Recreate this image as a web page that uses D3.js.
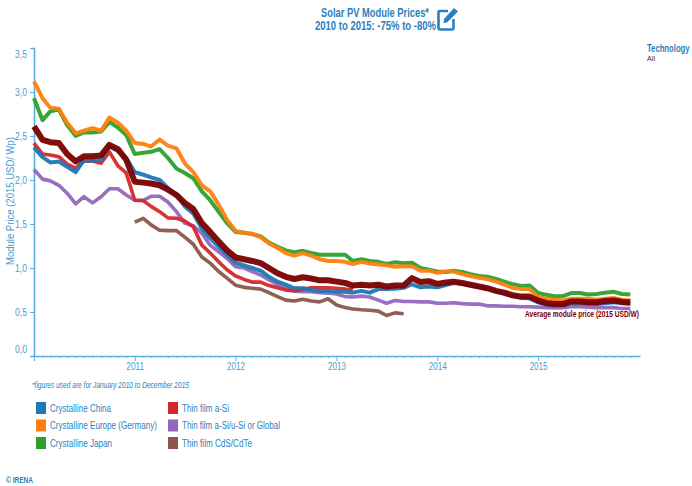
<!DOCTYPE html>
<html>
<head>
<meta charset="utf-8">
<script src="https://cdn.jsdelivr.net/npm/d3@7"></script>
<style>
  html, body { margin: 0; padding: 0; background: #fff; }
  svg { display: block; }
  text { font-family: "Liberation Sans", sans-serif; }
</style>
</head>
<body>
<svg id="chart" width="692" height="486"></svg>
<script>
// monthly values, Jan 2010 onwards (USD/Wp); brown starts Jan 2011
const china = [2.37,2.26,2.20,2.21,2.15,2.09,2.23,2.22,2.23,2.38,2.33,2.25,2.09,2.06,2.03,2.00,1.91,1.83,1.70,1.62,1.45,1.34,1.24,1.15,1.06,1.03,1.00,.97,.90,.845,.81,.77,.77,.75,.74,.74,.73,.73,.72,.74,.72,.76,.76,.765,.775,.815,.78,.79,.78,.805,.83,.82,.80,.785,.765,.735,.705,.68,.66,.655,.61,.58,.57,.57,.60,.60,.59,.59,.60,.61,.60,.59];
const europe = [3.12,2.93,2.82,2.81,2.65,2.53,2.56,2.59,2.56,2.71,2.65,2.56,2.42,2.41,2.38,2.46,2.39,2.36,2.19,2.09,1.94,1.87,1.72,1.55,1.42,1.40,1.39,1.35,1.28,1.23,1.17,1.14,1.17,1.14,1.10,1.08,1.08,1.07,1.045,1.07,1.05,1.04,1.03,1.015,1.02,1.02,.97,.97,.945,.96,.96,.93,.91,.89,.875,.845,.81,.775,.76,.76,.67,.65,.64,.63,.65,.65,.65,.64,.65,.66,.64,.63];
const japan = [2.93,2.68,2.78,2.80,2.625,2.50,2.54,2.54,2.55,2.66,2.595,2.51,2.295,2.31,2.32,2.35,2.25,2.13,2.08,2.02,1.87,1.77,1.64,1.51,1.41,1.40,1.385,1.36,1.29,1.24,1.20,1.18,1.195,1.17,1.15,1.15,1.15,1.15,1.08,1.10,1.08,1.07,1.045,1.065,1.055,1.06,1.0,.98,.96,.955,.97,.955,.93,.91,.90,.875,.845,.815,.795,.80,.715,.695,.68,.68,.715,.715,.70,.705,.72,.73,.705,.70];
const aSi = [2.42,2.295,2.285,2.265,2.18,2.135,2.215,2.215,2.19,2.32,2.16,2.08,1.77,1.765,1.70,1.64,1.57,1.565,1.535,1.47,1.26,1.17,1.07,.98,.91,.87,.84,.84,.80,.775,.75,.74,.76,.775,.775,.775,.77,.76,.75];
const aSiGlobal = [2.12,2.01,1.99,1.94,1.85,1.73,1.81,1.74,1.81,1.90,1.90,1.83,1.77,1.77,1.815,1.815,1.75,1.64,1.51,1.48,1.395,1.26,1.185,1.11,1.015,1.0,.96,.92,.865,.815,.77,.74,.73,.73,.72,.715,.705,.675,.67,.68,.67,.635,.60,.63,.62,.62,.615,.615,.60,.60,.605,.595,.59,.59,.57,.57,.565,.565,.56,.56,.555,.55,.545,.55,.56,.56,.555,.55,.55,.55,.54,.54];
const cdTe = [1.52,1.565,1.49,1.43,1.425,1.425,1.35,1.27,1.125,1.055,.96,.885,.805,.78,.77,.76,.72,.675,.635,.625,.645,.625,.615,.65,.58,.55,.535,.525,.52,.51,.46,.49,.48];
const average = [2.61,2.455,2.43,2.42,2.295,2.21,2.27,2.27,2.28,2.40,2.35,2.23,1.98,1.97,1.96,1.94,1.89,1.83,1.74,1.67,1.51,1.41,1.30,1.20,1.12,1.10,1.08,1.055,1.0,.94,.90,.875,.895,.88,.86,.86,.845,.83,.80,.81,.80,.81,.79,.80,.80,.885,.84,.85,.82,.835,.845,.83,.81,.79,.77,.74,.72,.69,.675,.675,.63,.60,.59,.59,.62,.62,.61,.61,.625,.63,.615,.61];

const legendNames = ['Crystalline China','Crystalline Europe (Germany)','Crystalline Japan','Thin film a-Si','Thin film a-Si/u-Si or Global','Thin film CdS/CdTe'];
const legendWidths = [61,107,62,47,98,70];   // the original font is a narrow one
const legendColors = ['#1f77b4','#ff7f0e','#2ca02c','#d62728','#9467bd','#8c564b'];
const yTicks = [0,0.5,1,1.5,2,2.5,3,3.5];

const BLUE = '#2b7fbc', AXIS = '#5aaedb', TICKTXT = '#4c9ccf', DARK = '#7b0000';

const svg = d3.select('#chart');
const x = d3.scaleTime().domain([new Date(2010,0,1), new Date(2016,0,5)]).range([34,640]);
const y = d3.scaleLinear().domain([0,3.5]).range([356,48]);
const fmt = v => v.toFixed(1).replace('.',',');

// squeeze a text to a given width, no narrow font is installed
function fit(sel, w) {
  return sel.attr('textLength', w).attr('lengthAdjust', 'spacingAndGlyphs');
}

/* ---- axes ---- */
const months = d3.timeMonth.range(new Date(2010,0,1), new Date(2016,0,1));
const xAxis = d3.axisBottom(x).tickValues(months).tickSizeOuter(0)
  .tickFormat(d => d.getMonth() === 0 && d.getFullYear() > 2010 ? d.getFullYear() : '');
const gx = svg.append('g').attr('transform','translate(0,356)').call(xAxis);
gx.selectAll('.tick line').attr('stroke',AXIS).attr('y2', d => d.getMonth() === 0 ? 5 : 2);
gx.select('.domain').attr('stroke',AXIS).attr('stroke-width',1.6);
gx.selectAll('.tick text').attr('fill',TICKTXT).attr('font-size',10).attr('y',7)
  .filter(d => d.getMonth() === 0 && d.getFullYear() > 2010).call(fit, 18);

const gy = svg.append('g').attr('transform','translate(34,0)')
  .call(d3.axisLeft(y).tickValues(yTicks).tickFormat(fmt).tickSize(4).tickSizeOuter(3));
gy.selectAll('.tick line').attr('stroke',AXIS);
gy.select('.domain').attr('stroke',AXIS).attr('stroke-width',1.6);
gy.selectAll('.tick text').attr('fill',TICKTXT).attr('font-size',10)
  .attr('dy', d => d === 3.5 ? '0.9em' : d === 0 ? '-0.4em' : '0.32em')
  .call(fit, 12);

svg.append('text').attr('transform','translate(14,201) rotate(-90)').attr('text-anchor','middle')
  .attr('fill',TICKTXT).attr('font-size',10).call(fit, 128).text('Module Price (2015 USD/ Wp)');

/* ---- lines ---- */
const line = d3.line().x(d => x(d.date)).y(d => y(d.v));
const withDates = (vals, start) => vals.map((v,i) => ({ date: months[start+i], v }));
const drawn = [
  [cdTe, 12, legendColors[5], 3.6],
  [aSiGlobal, 0, legendColors[4], 3.6],
  [aSi, 0, legendColors[3], 3.6],
  [japan, 0, legendColors[2], 4],
  [europe, 0, legendColors[1], 4],
  [china, 0, legendColors[0], 4],
  [average, 0, DARK, 6],
];
svg.append('g').selectAll('path').data(drawn).enter().append('path')
  .attr('d', d => line(withDates(d[0], d[1])))
  .attr('fill','none').attr('stroke', d => d[2]).attr('stroke-width', d => d[3])
  .attr('stroke-linejoin','round').attr('opacity',0.95);

svg.append('text').attr('x',525).attr('y',317).attr('fill',DARK).attr('font-size',8.4).attr('font-weight','bold')
  .call(fit, 114).text('Average module price (2015 USD/W)');

/* ---- title ---- */
svg.append('text').attr('x',321).attr('y',17).attr('fill',BLUE).attr('font-weight','bold').attr('font-size',12)
  .call(fit, 108).text('Solar PV Module Prices*');
svg.append('text').attr('x',315).attr('y',30).attr('fill',BLUE).attr('font-weight','bold').attr('font-size',12)
  .call(fit, 121).text('2010 to 2015: -75% to -80%');

// edit icon next to the title
const icon = svg.append('g').attr('transform','translate(437,7)').attr('fill','none').attr('stroke',BLUE);
icon.append('path').attr('stroke-width',2.6).attr('d','M11 4 H3 Q1.5 4 1.5 5.5 V21 Q1.5 22.5 3 22.5 H15 Q16.5 22.5 16.5 21 V12');
icon.append('path').attr('stroke','none').attr('fill',BLUE).attr('d','M7 12 L17 1 L21 4.5 L10 15.5 L6.5 16 Z');

// scaled rather than fitted, it sits close to the right edge
svg.append('text').attr('transform','translate(647,52) scale(0.77,1)').attr('fill',BLUE).attr('font-weight','bold').attr('font-size',10)
  .text('Technology');
svg.append('text').attr('x',647).attr('y',61).attr('fill','#333').attr('font-size',8)
  .call(fit, 8).text('All');

svg.append('text').attr('x',32).attr('y',388).attr('fill',BLUE).attr('font-style','italic').attr('font-size',8.4)
  .call(fit, 157).text('*figures used are for January 2010 to December 2015');

/* ---- legend ---- */
const legend = svg.append('g').selectAll('g').data(legendNames).enter().append('g')
  .attr('transform',(d,i) => `translate(${i < 3 ? 36 : 168},${402 + (i % 3) * 17.5})`);
legend.append('rect').attr('width',10).attr('height',12).attr('fill',(d,i) => legendColors[i]);
legend.append('text').attr('x',14).attr('y',9.5).attr('fill',BLUE).attr('font-size',10)
  .attr('textLength',(d,i) => legendWidths[i]).attr('lengthAdjust','spacingAndGlyphs').text(d => d);

svg.append('text').attr('x',6).attr('y',483).attr('fill',BLUE).attr('font-weight','bold').attr('font-size',8.4)
  .call(fit, 27).text('© IRENA');
</script>
</body>
</html>
